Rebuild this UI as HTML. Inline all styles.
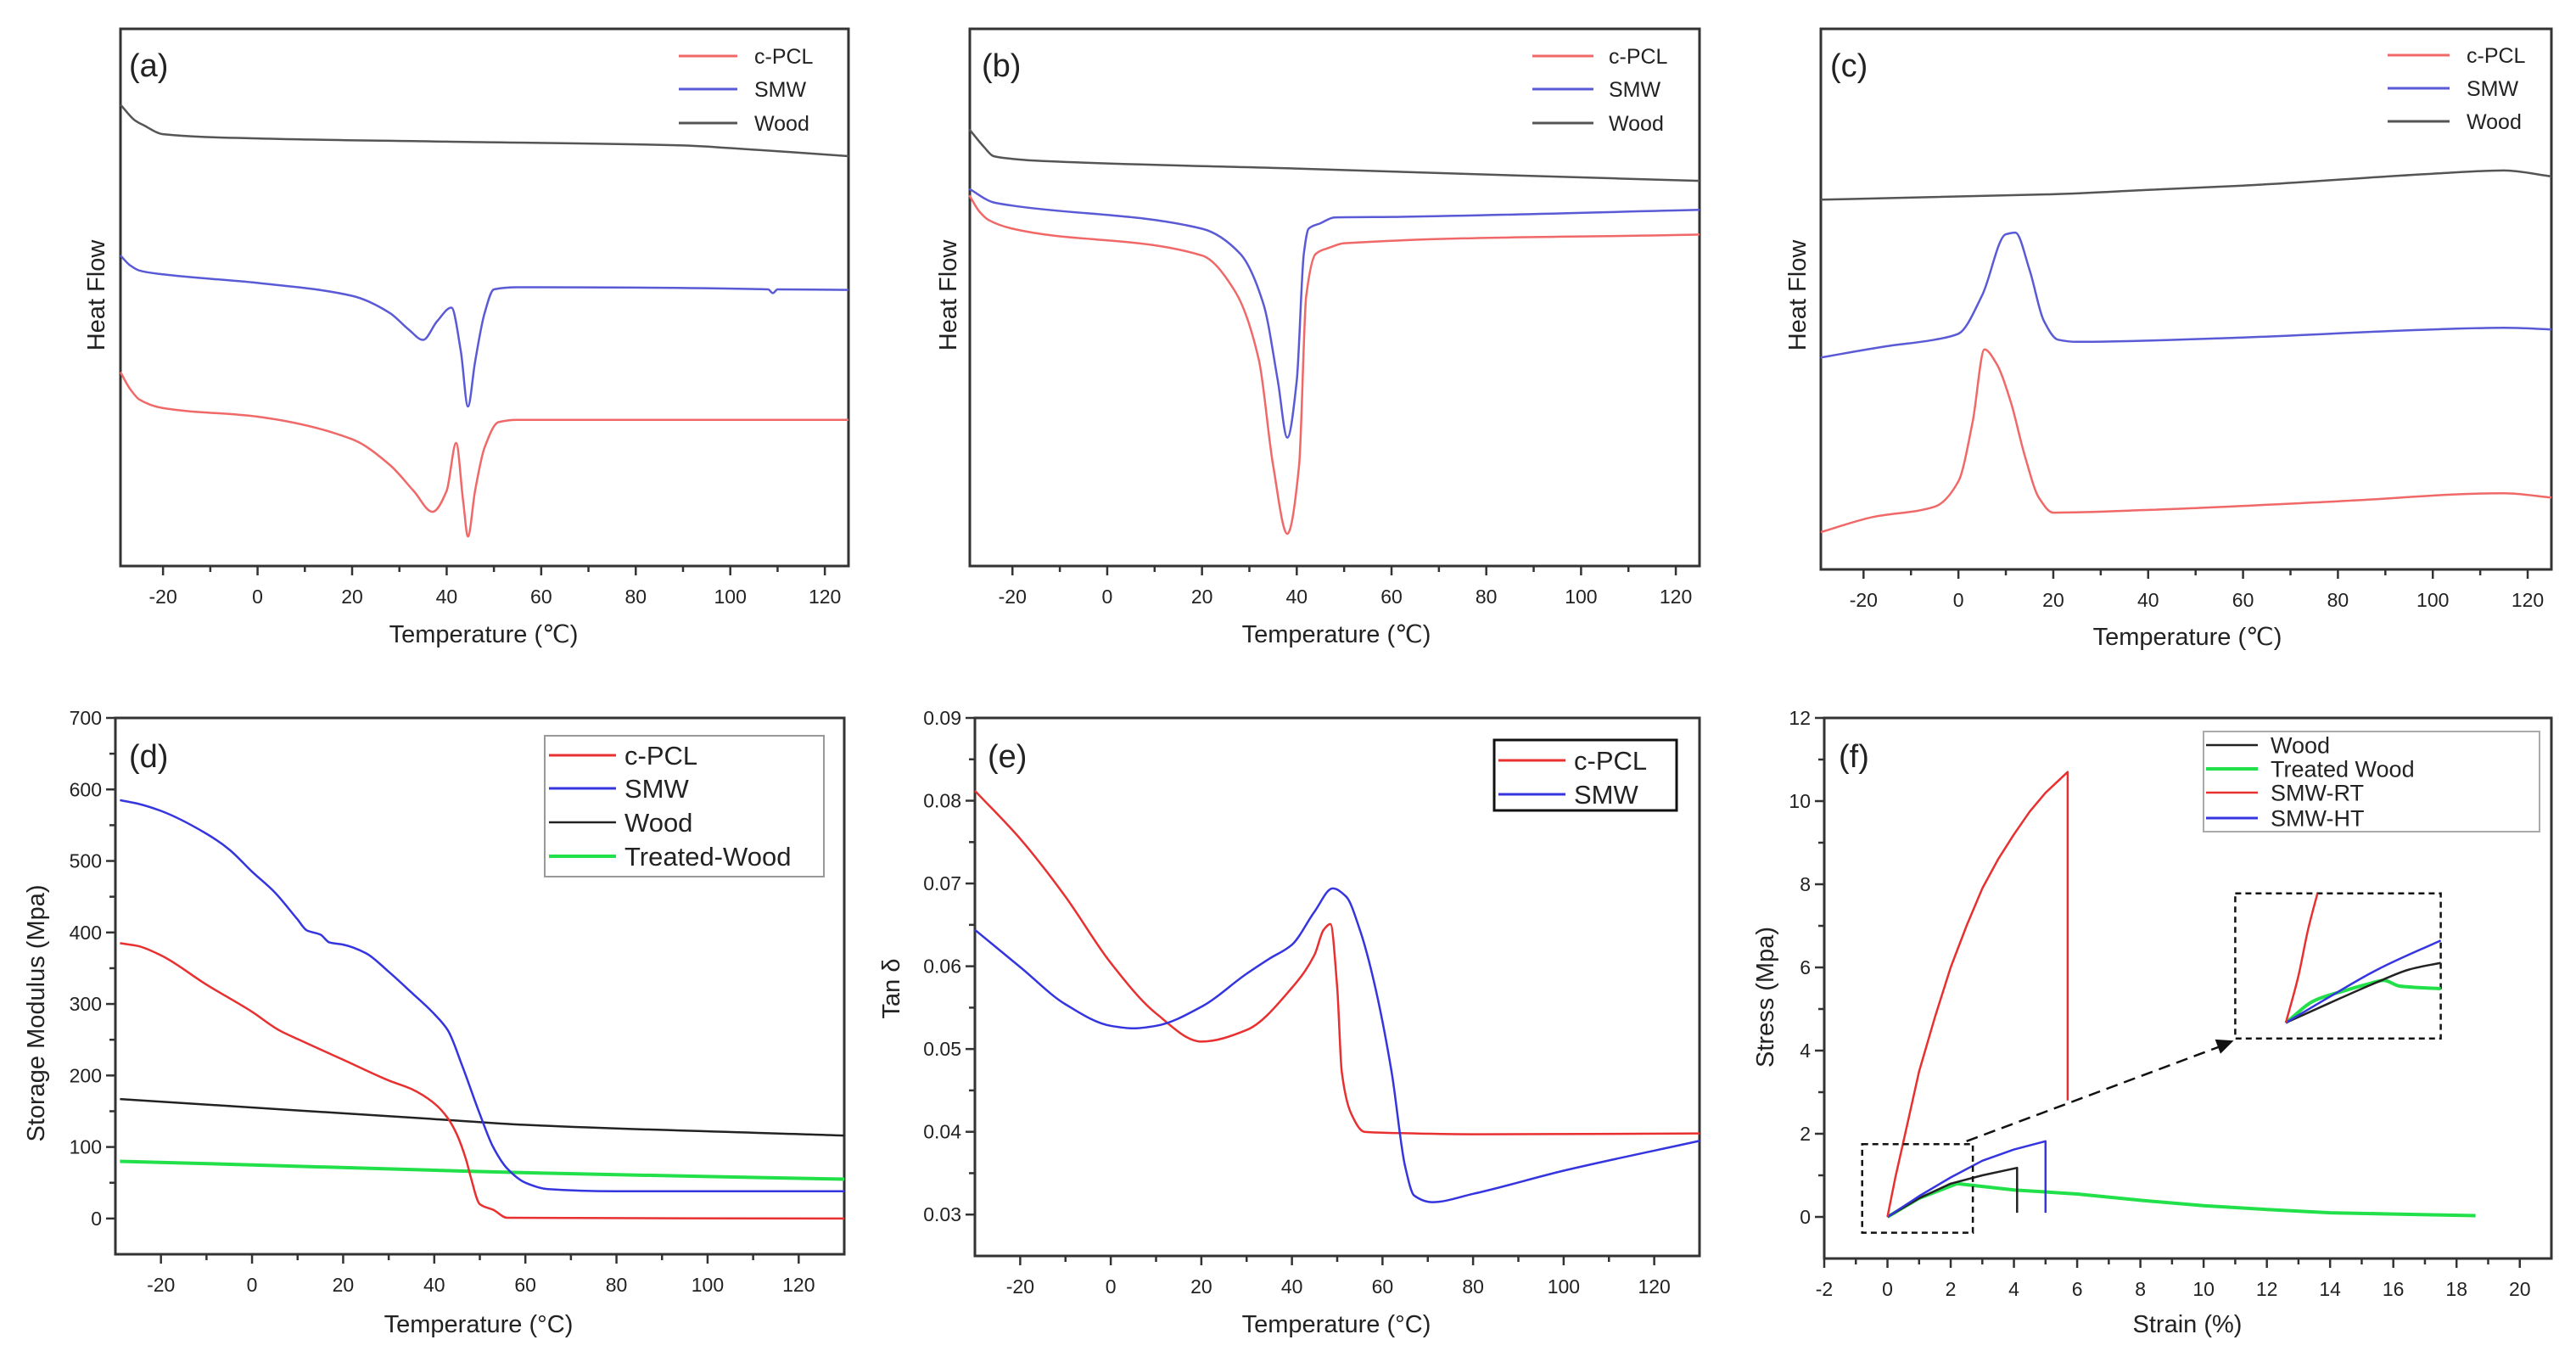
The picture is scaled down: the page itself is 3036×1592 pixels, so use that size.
<!DOCTYPE html>
<html><head><meta charset="utf-8"><style>
html,body{margin:0;padding:0;background:#fff;}
svg{display:block;font-family:"Liberation Sans",sans-serif;}
</style></head><body>
<svg id="fig" width="3036" height="1592" viewBox="0 0 3036 1592" xmlns="http://www.w3.org/2000/svg"></svg>
<script>
// ---------- Panel (a) DSC ----------
const aWoodT=[-29,-26,-24,-20,0,40,90,100,125];
const aWoodV=[85.9,83,82,80.4,79.6,79.0,78.3,77.8,76.3];
const aSmwT=[-29,-27,-25,-20,0,20,28,32,35,38,41,43,44.5,46,48,50,55,108,109,110,125];
const aSmwV=[57.8,56,55,54.3,52.7,50.3,47.1,44,42.1,45.6,48.1,40,29.7,38,47,51.5,51.9,51.5,50.8,51.5,51.4];
const aPclT=[-29,-27,-25,-20,0,20,28,33,37,40,42,43.5,44.5,46,48,51,55,125];
const aPclV=[36.1,33,31,29.4,27.8,23.6,18.8,14,10.1,14,22.9,12,5.5,14,22,26.8,27.2,27.2];
// ---------- Panel (b) DSC ----------
const bWoodT=[-29.1,-26,-24,-20,-15.7,40,90,125];
const bWoodV=[81.3,78,76.3,75.8,75.5,74.0,72.6,71.7];
const bSmwT=[-29.1,-24,-20,20,28,33,36,38,40,41.5,42.5,45,48,60,125];
const bSmwV=[70.2,67.7,67.1,62.8,58.2,48.7,34.5,23.9,34.5,58.2,62.8,63.8,64.9,65.0,66.3];
const bPclT=[-29.1,-27,-25,-20,20,27,32,35,38,40.5,42,44,47,50,125];
const bPclV=[69.0,66,64.4,62.8,57.8,51.1,38.4,18.8,6.0,18.8,50.3,58.1,59.3,60.1,61.7];
// ---------- Panel (c) DSC ----------
const cWoodT=[-29,20,40,60,100,115,125];
const cWoodV=[68.4,69.4,70.2,71.0,73.2,73.8,72.7];
const cSmwT=[-29,-15,-5,0,5,10,12,15,18,21,25,60,100,115,125];
const cSmwV=[39.2,41.3,42.5,43.6,50.7,62.0,62.3,55.4,46.0,42.5,42.1,42.9,44.4,44.7,44.4];
const cPclT=[-29,-18,-5,0,3,5.5,8,11,14,17,20,40,80,115,125];
const cPclV=[6.9,9.7,11.6,16.3,27.3,40.7,38.1,31.1,21.0,13.2,10.5,11.0,12.6,14.1,13.3];
// ---------- Panel (d) storage modulus ----------
const dSmwT=[-29,-25,-20,-10,-5,0,5,10,12,15,17,20,25,30,35,40,43,46,50,53,56,60,65,80,130];
const dSmwV=[585,580,570,538,516,485,456,418,403,397,386,383,371,345,316,286,263,216,146,99,70,50,41,38,38];
const dPclT=[-29,-25,-20,-10,0,6,10,20,30,35,40,43,45,47,48,50,53,56,130];
const dPclV=[385,381,368,327,289,263,251,222,193,181,161,140,117,82,58,20,12,1,0];
const dWoodT=[-29,40,60,130];
const dWoodV=[167,139,131,116];
const dTreatT=[-29,0,60,130];
const dTreatV=[80,75,64,55];
// ---------- Panel (e) tan delta ----------
const ePclT=[-30,-20,-10,0,10,20,30,40,45,47,48.5,50,51,53,56,60,80,130];
const ePclV=[0.0812,0.0754,0.0684,0.0604,0.0543,0.0509,0.0523,0.0574,0.0614,0.0644,0.0651,0.0574,0.0473,0.0423,0.0400,0.0399,0.0397,0.0398];
const eSmwT=[-30,-20,-10,0,5,10,20,30,35,40,45,49,52,55,58,62,65,67,71,80,100,130];
const eSmwV=[0.0644,0.0599,0.0554,0.0528,0.0525,0.0528,0.0551,0.0591,0.0609,0.0626,0.0666,0.0694,0.0684,0.0644,0.0584,0.0473,0.0358,0.0323,0.0315,0.0325,0.0353,0.0389];
// ---------- Panel (f) stress-strain ----------
const fRtS=[0,0.25,0.5,1,1.5,2,2.5,3,3.5,4,4.5,5,5.7,5.7];
const fRtV=[0,0.95,1.8,3.5,4.8,6.0,7.0,7.9,8.6,9.2,9.75,10.2,10.7,2.8];
const fHtS=[0,1,2,3,4,5,5];
const fHtV=[0,0.5,0.95,1.35,1.62,1.82,0.1];
const fWoodS=[0,1,2,3,4.1,4.1];
const fWoodV=[0,0.45,0.8,1.0,1.18,0.1];
const fTreatS=[0,1,2.2,4,6,8,10,12,14,16,18.6];
const fTreatV=[0,0.45,0.8,0.65,0.55,0.4,0.27,0.18,0.1,0.07,0.03];
// inset (magnified view, drawn in main-axis units)
const insRtS=[12.6,13.0,13.3,13.6];
const insRtV=[4.67,5.8,6.9,7.78];
const insHtS=[12.6,14,15.5,17.5];
const insHtV=[4.67,5.3,5.95,6.65];
const insWoodS=[12.6,14,15.5,16.5,17.5];
const insWoodV=[4.67,5.15,5.65,5.95,6.11];
const insTreatS=[12.6,13.5,14.5,15.2,15.7,16.2,17.5];
const insTreatV=[4.67,5.2,5.45,5.6,5.69,5.55,5.49];

const NS="http://www.w3.org/2000/svg";
const svg=document.getElementById('fig');
function el(tag,attrs,parent){const e=document.createElementNS(NS,tag);for(const k in attrs)e.setAttribute(k,attrs[k]);(parent||svg).appendChild(e);return e;}
function txt(s,attrs,parent){const e=el('text',attrs,parent);e.textContent=s;return e;}
function scale(d0,d1,r0,r1){return v=>r0+(v-d0)/(d1-d0)*(r1-r0);}

function axes(p){
  const g=el('g',{});
  
  
  const fr=el('rect',{x:p.L,y:p.T,width:p.R-p.L,height:p.B-p.T,fill:'none',stroke:'#333','stroke-width':3},g);
  
  
  const X=scale(p.x0,p.x1,p.L,p.R), Y=scale(p.y0,p.y1,p.B,p.T);
  for(let v=p.xt0;v<=p.xt1+1e-9;v+=p.xminor){
    const major=Math.abs(((v-p.xt0)/p.xstep)-Math.round((v-p.xt0)/p.xstep))<1e-6;
    const t=el('line',{x1:X(v),x2:X(v),y1:p.B,y2:p.B+(major?11:7),stroke:'#333','stroke-width':2.5},g);
    
    
    if(major){const l=txt(String(Math.round(v*100)/100),{x:X(v),y:p.B+44,'text-anchor':'middle','font-size':23,fill:'#222'},g);
      
      }
  }
  if(p.yt0!==undefined){
    for(let v=p.yt0;v<=p.yt1+1e-9;v+=p.yminor){
      const major=Math.abs(((v-p.yt0)/p.ystep)-Math.round((v-p.yt0)/p.ystep))<1e-6;
      const t=el('line',{x1:p.L-(major?11:7),x2:p.L,y1:Y(v),y2:Y(v),stroke:'#333','stroke-width':2.5},g);
      
      
      if(major){const l=txt(p.yfmt(v),{x:p.L-16,y:Y(v)+8,'text-anchor':'end','font-size':23,fill:'#222'},g);
        
        }
    }
  }
  const xt=txt(p.xtitle,{x:p.xtx,y:p.xty,'text-anchor':'middle','font-size':29,fill:'#222'},g);
  
  
  const yt=txt(p.ytitle,{x:0,y:0,'text-anchor':'middle','font-size':29,fill:'#222',transform:`translate(${p.ytx},${p.yty}) rotate(-90)`},g);
  
  
  const pl=txt(p.label,{x:p.lx,y:p.ly,'font-size':38,fill:'#222'},g);
  
  
  return {g,X,Y};
}
// monotone cubic (Fritsch-Carlson) in pixel space; no overshoot
function pathD(P,smooth){
  const f=v=>v.toFixed(1);
  if(!smooth||P.length<3) return 'M'+P.map(p=>f(p[0])+','+f(p[1])).join(' L');
  const n=P.length,dx=[],s=[],m=new Array(n);
  for(let i=0;i<n-1;i++){dx[i]=P[i+1][0]-P[i][0];s[i]=(P[i+1][1]-P[i][1])/dx[i];}
  m[0]=s[0];m[n-1]=s[n-2];
  for(let i=1;i<n-1;i++){
    if(s[i-1]*s[i]<=0){m[i]=0;}
    else{const w1=2*dx[i]+dx[i-1],w2=dx[i]+2*dx[i-1];m[i]=(w1+w2)/(w1/s[i-1]+w2/s[i]);}
  }
  let d='M'+f(P[0][0])+','+f(P[0][1]);
  for(let i=0;i<n-1;i++){
    const h=dx[i]/3;
    d+=` C${f(P[i][0]+h)},${f(P[i][1]+m[i]*h)} ${f(P[i+1][0]-h)},${f(P[i+1][1]-m[i+1]*h)} ${f(P[i+1][0])},${f(P[i+1][1])}`;
  }
  return d;
}
function series(ax,xs,ys,color,w,name,smooth){
  const P=xs.map((x,i)=>[ax.X(x),ax.Y(ys[i])]);
  const l=el('path',{d:pathD(P,smooth!==false),fill:'none',stroke:color,'stroke-width':w,'stroke-linejoin':'round'},ax.g);
  
  
}
function legend(ax,items,lx1,lx2,tx,ys,fs,box){
  const g=el('g',{},ax.g);
  
  
  if(box){const r=el('rect',{x:box[0],y:box[1],width:box[2],height:box[3],fill:'#fff',stroke:box[4],'stroke-width':box[5]},g);
    
    }
  items.forEach((it,i)=>{
    const ln=el('line',{x1:lx1,x2:lx2,y1:ys[i],y2:ys[i],stroke:it[1],'stroke-width':it[2]},g);
    
    
    const t=txt(it[0],{x:tx,y:ys[i]+fs*0.36,'font-size':fs,fill:'#222'},g);
    
    
  });
}
const R1='#f06868',B1='#5a5ad6',K1='#555';
const R2='#e83030',B2='#3535e0',K2='#222',G2='#22e04a';
const dscLeg=[['c-PCL',R1,3],['SMW',B1,3],['Wood',K1,3]];
const dscBase={x0:-29,x1:125,xt0:-20,xt1:120,xstep:20,xminor:10,y0:0,y1:100,T:34,B:667,ytitle:'Heat Flow',xtitle:'Temperature (\u2103)'};

let A=axes(Object.assign({},dscBase,{name:'panel-a-dsc',L:142,R:1000,xtx:570,xty:757,ytx:123,yty:348,label:'(a)',lx:152,ly:90}));
series(A,aWoodT,aWoodV,K1,2.5,'wood-line');
series(A,aSmwT,aSmwV,B1,2.5,'smw-line');
series(A,aPclT,aPclV,R1,2.5,'c-pcl-line');
legend(A,dscLeg,800,869,889,[66,105,145],25);

let Bp=axes(Object.assign({},dscBase,{name:'panel-b-dsc',L:1143,R:2003,xtx:1575,xty:757,ytx:1127,yty:348,label:'(b)',lx:1157,ly:90}));
series(Bp,bWoodT,bWoodV,K1,2.5,'wood-line');
series(Bp,bSmwT,bSmwV,B1,2.5,'smw-line');
series(Bp,bPclT,bPclV,R1,2.5,'c-pcl-line');
legend(Bp,dscLeg,1806,1878,1896,[66,105,145],25);

let C=axes(Object.assign({},dscBase,{name:'panel-c-dsc',L:2146,R:3007,T:34,B:671,xtx:2578,xty:760,ytx:2128,yty:348,label:'(c)',lx:2157,ly:90}));
series(C,cWoodT,cWoodV,K1,2.5,'wood-line');
series(C,cSmwT,cSmwV,B1,2.5,'smw-line');
series(C,cPclT,cPclV,R1,2.5,'c-pcl-line');
legend(C,dscLeg,2814,2887,2907,[65,104,143],25);

let D=axes({name:'panel-d-storage-modulus',L:136,R:995,T:846,B:1478,x0:-30,x1:130,xt0:-20,xt1:120,xstep:20,xminor:10,y0:-50,y1:700,yt0:0,yt1:700,ystep:100,yminor:50,yfmt:v=>String(v),xtitle:'Temperature (\u00B0C)',xtx:564,xty:1570,ytitle:'Storage Modulus  (Mpa)',ytx:52,yty:1194,label:'(d)',lx:152,ly:904});
series(D,dWoodT,dWoodV,K2,2.5,'wood-line');
series(D,dTreatT,dTreatV,G2,4,'treated-wood-line');
series(D,dPclT,dPclV,R2,2.5,'c-pcl-line');
series(D,dSmwT,dSmwV,B2,2.5,'smw-line');
legend(D,[['c-PCL',R2,3],['SMW',B2,3],['Wood',K2,2.5],['Treated-Wood',G2,4]],647,726,736,[890,929,969,1009],31,[642,867,329,166,'#999',2]);

let E=axes({name:'panel-e-tan-delta',L:1149,R:2003,T:846,B:1480,x0:-30,x1:130,xt0:-20,xt1:120,xstep:20,xminor:10,y0:0.025,y1:0.09,yt0:0.03,yt1:0.09,ystep:0.01,yminor:0.005,yfmt:v=>v.toFixed(2),xtitle:'Temperature (\u00B0C)',xtx:1575,xty:1570,ytitle:'Tan \u03B4',ytx:1060,yty:1165,label:'(e)',lx:1164,ly:904});
series(E,ePclT,ePclV,R2,2.5,'c-pcl-line');
series(E,eSmwT,eSmwV,B2,2.5,'smw-line');
legend(E,[['c-PCL',R2,3],['SMW',B2,3]],1766,1845,1855,[896,936],31,[1761,872,215,83,'#111',3]);

let F=axes({name:'panel-f-stress-strain',L:2150,R:3007,T:846,B:1483,x0:-2,x1:21,xt0:-2,xt1:20,xstep:2,xminor:1,y0:-1,y1:12,yt0:0,yt1:12,ystep:2,yminor:1,yfmt:v=>String(v),xtitle:'Strain (%)',xtx:2578,xty:1570,ytitle:'Stress (Mpa)',ytx:2090,yty:1175,label:'(f)',lx:2167,ly:904});
series(F,fTreatS,fTreatV,G2,4,'treated-wood-line',false);
series(F,fWoodS,fWoodV,K2,2.5,'wood-line',false);
series(F,fHtS,fHtV,B2,2.5,'smw-ht-line',false);
series(F,fRtS,fRtV,R2,2.5,'smw-rt-line',false);
const zb=el('rect',{x:F.X(-0.8),y:F.Y(1.75),width:F.X(2.7)-F.X(-0.8),height:F.Y(-0.38)-F.Y(1.75),fill:'none',stroke:'#111','stroke-width':2.5,'stroke-dasharray':'7,5'},F.g);


const ib=el('rect',{x:F.X(11.0),y:F.Y(7.78),width:F.X(17.5)-F.X(11.0),height:F.Y(4.29)-F.Y(7.78),fill:'none',stroke:'#111','stroke-width':2.5,'stroke-dasharray':'7,5'},F.g);


series(F,insTreatS,insTreatV,G2,4,'inset-treated-wood-line');
series(F,insWoodS,insWoodV,K2,2.5,'inset-wood-line');
series(F,insHtS,insHtV,B2,2.5,'inset-smw-ht-line');
series(F,insRtS,insRtV,R2,2.5,'inset-smw-rt-line');
const ar=el('line',{x1:F.X(2.5),y1:F.Y(1.82),x2:F.X(10.7),y2:F.Y(4.15),stroke:'#111','stroke-width':2.5,'stroke-dasharray':'14,8'},F.g);


(function(){const x=F.X(10.95),y=F.Y(4.24),ang=Math.atan2(F.Y(4.24)-F.Y(1.82),F.X(10.95)-F.X(2.5));
const L=20,W=9;const bx=x-L*Math.cos(ang),by=y-L*Math.sin(ang);
const p=`${x},${y} ${bx-W*Math.sin(ang)},${by+W*Math.cos(ang)} ${bx+W*Math.sin(ang)},${by-W*Math.cos(ang)}`;
const h=el('polygon',{points:p,fill:'#111'},F.g);

})();
legend(F,[['Wood',K2,2.5],['Treated Wood',G2,4],['SMW-RT',R2,2.5],['SMW-HT',B2,3]],2600,2661,2676,[878,906,934,964],27,[2597,862,396,118,'#aaa',2]);
</script>
</body></html>
